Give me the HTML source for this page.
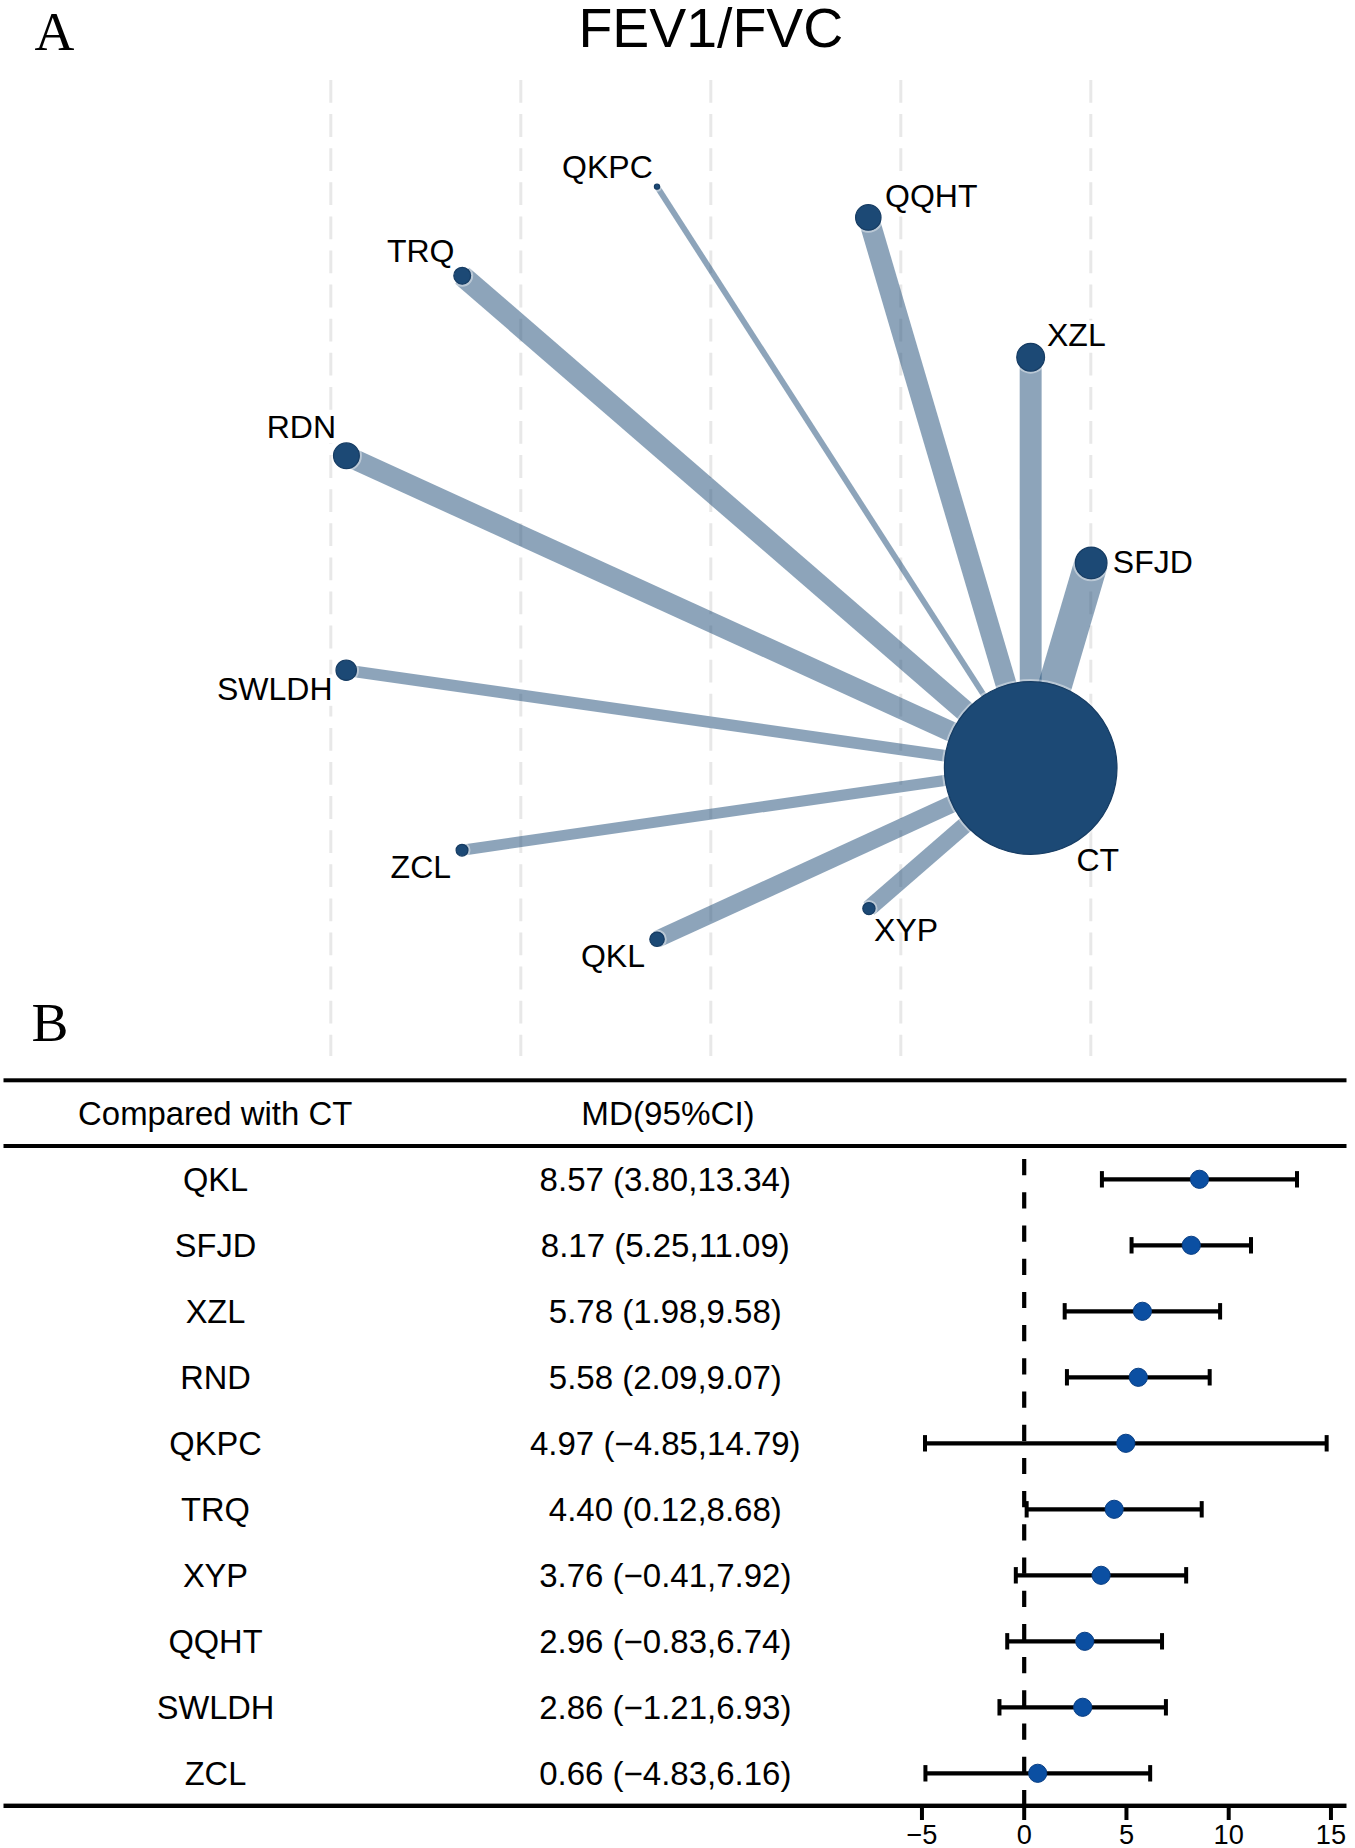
<!DOCTYPE html>
<html><head><meta charset="utf-8"><style>
html,body{margin:0;padding:0;background:#fff;}
body{width:1355px;height:1848px;overflow:hidden;}
svg{display:block;}
text{font-family:"Liberation Sans",sans-serif;fill:#000;}
.serif{font-family:"Liberation Serif",serif;}
</style></head><body>
<svg width="1355" height="1848" viewBox="0 0 1355 1848">
<rect width="1355" height="1848" fill="#fff"/>

<line x1="330.8" y1="80" x2="330.8" y2="1056" stroke="#e8e8e8" stroke-width="3" stroke-dasharray="22.8 11.3"/>
<line x1="520.8" y1="80" x2="520.8" y2="1056" stroke="#e8e8e8" stroke-width="3" stroke-dasharray="22.8 11.3"/>
<line x1="710.8" y1="80" x2="710.8" y2="1056" stroke="#e8e8e8" stroke-width="3" stroke-dasharray="22.8 11.3"/>
<line x1="900.8" y1="80" x2="900.8" y2="1056" stroke="#e8e8e8" stroke-width="3" stroke-dasharray="22.8 11.3"/>
<line x1="1090.8" y1="80" x2="1090.8" y2="1056" stroke="#e8e8e8" stroke-width="3" stroke-dasharray="22.8 11.3"/>
<rect x="884.0" y="181.5" width="94.4" height="31.4" fill="#fff"/>
<rect x="1046.0" y="320.4" width="60.7" height="31.4" fill="#fff"/>
<rect x="265.7" y="411.9" width="71.3" height="31.4" fill="#fff"/>
<rect x="216.0" y="674.4" width="117.6" height="31.4" fill="#fff"/>
<g stroke="#1c4975" stroke-opacity="0.5" fill="none">
<line x1="657.0" y1="186.6" x2="1030.7" y2="768.0" stroke-width="5.8"/>
<line x1="868.3" y1="217.4" x2="1030.7" y2="768.0" stroke-width="21.0"/>
<line x1="462.2" y1="275.7" x2="1030.7" y2="768.0" stroke-width="21.2"/>
<line x1="1030.65" y1="357.2" x2="1030.7" y2="768.0" stroke-width="21.9"/>
<line x1="346.4" y1="455.8" x2="1030.7" y2="768.0" stroke-width="20.2"/>
<line x1="1091.2" y1="562.9" x2="1030.7" y2="768.0" stroke-width="33.7"/>
<line x1="346.2" y1="670.2" x2="1030.7" y2="768.0" stroke-width="11.7"/>
<line x1="462.0" y1="850.2" x2="1030.7" y2="768.0" stroke-width="11.0"/>
<line x1="657.0" y1="939.3" x2="1030.7" y2="768.0" stroke-width="17.2"/>
<line x1="868.9" y1="908.6" x2="1030.7" y2="768.0" stroke-width="16.6"/>
</g>
<g fill="none" stroke="#fff" stroke-opacity="0.4" stroke-width="2">
<circle cx="1030.7" cy="768.0" r="87.9"/>
<circle cx="657.0" cy="186.6" r="4.20"/>
<circle cx="868.3" cy="217.4" r="14.30"/>
<circle cx="462.2" cy="275.7" r="10.00"/>
<circle cx="1030.65" cy="357.2" r="15.50"/>
<circle cx="346.4" cy="455.8" r="14.50"/>
<circle cx="1091.2" cy="562.9" r="17.40"/>
<circle cx="346.2" cy="670.2" r="11.80"/>
<circle cx="462.0" cy="850.2" r="7.50"/>
<circle cx="657.0" cy="939.3" r="8.80"/>
<circle cx="868.9" cy="908.6" r="7.70"/>
</g>
<g fill="#1c4975" stroke="#163c63" stroke-width="1.2">
<circle cx="1030.7" cy="768.0" r="86.30000000000001"/>
<circle cx="657.0" cy="186.6" r="2.60"/>
<circle cx="868.3" cy="217.4" r="12.70"/>
<circle cx="462.2" cy="275.7" r="8.40"/>
<circle cx="1030.65" cy="357.2" r="13.90"/>
<circle cx="346.4" cy="455.8" r="12.90"/>
<circle cx="1091.2" cy="562.9" r="15.80"/>
<circle cx="346.2" cy="670.2" r="10.20"/>
<circle cx="462.0" cy="850.2" r="5.90"/>
<circle cx="657.0" cy="939.3" r="7.20"/>
<circle cx="868.9" cy="908.6" r="6.10"/>
</g>
<text x="562.1" y="177.8" font-size="32">QKPC</text>
<text x="885" y="207.1" font-size="32">QQHT</text>
<text x="386.9" y="262.0" font-size="32">TRQ</text>
<text x="1047" y="346.0" font-size="32">XZL</text>
<text x="266.7" y="437.5" font-size="32">RDN</text>
<text x="1112.8" y="572.9" font-size="32">SFJD</text>
<text x="217" y="700.0" font-size="32">SWLDH</text>
<text x="390.6" y="878.0" font-size="32">ZCL</text>
<text x="580.9" y="967.3" font-size="32">QKL</text>
<text x="874.1" y="940.7" font-size="32">XYP</text>
<text x="1076.5" y="870.6" font-size="32">CT</text>
<text x="578.5" y="46.6" font-size="55.4">FEV1/FVC</text>
<text class="serif" x="34.6" y="50.3" font-size="55.2">A</text>
<text class="serif" x="31.4" y="1041.3" font-size="55.4">B</text>
<rect x="3.5" y="1078.3" width="1343" height="4" fill="#000"/>
<rect x="3.5" y="1144" width="1343" height="4" fill="#000"/>
<rect x="3.5" y="1803.6" width="1343" height="4.4" fill="#000"/>
<text x="215.2" y="1125" font-size="32.9" text-anchor="middle">Compared with CT</text>
<text x="668" y="1125" font-size="33.2" text-anchor="middle">MD(95%CI)</text>
<line x1="1024.2" y1="1159.1" x2="1024.2" y2="1805" stroke="#000" stroke-width="4.2" stroke-dasharray="16.2 17"/>
<text x="215.5" y="1190.7" font-size="32.6" text-anchor="middle">QKL</text>
<text x="665.3" y="1190.7" font-size="33.0" text-anchor="middle">8.57 (3.80,13.34)</text>
<line x1="1101.91" y1="1179.3" x2="1297.0030000000002" y2="1179.3" stroke="#000" stroke-width="4.2"/>
<line x1="1101.91" y1="1171.1" x2="1101.91" y2="1187.5" stroke="#000" stroke-width="4"/>
<line x1="1297.0030000000002" y1="1171.1" x2="1297.0030000000002" y2="1187.5" stroke="#000" stroke-width="4"/>
<circle cx="1199.4565" cy="1179.3" r="9.1" fill="#0b4fa2" stroke="#0a3f84" stroke-width="1"/>
<text x="215.5" y="1256.7" font-size="32.6" text-anchor="middle">SFJD</text>
<text x="665.3" y="1256.7" font-size="33.0" text-anchor="middle">8.17 (5.25,11.09)</text>
<line x1="1131.5625" y1="1245.3" x2="1250.9905" y2="1245.3" stroke="#000" stroke-width="4.2"/>
<line x1="1131.5625" y1="1237.1" x2="1131.5625" y2="1253.5" stroke="#000" stroke-width="4"/>
<line x1="1250.9905" y1="1237.1" x2="1250.9905" y2="1253.5" stroke="#000" stroke-width="4"/>
<circle cx="1191.2765" cy="1245.3" r="9.1" fill="#0b4fa2" stroke="#0a3f84" stroke-width="1"/>
<text x="215.5" y="1322.7" font-size="32.6" text-anchor="middle">XZL</text>
<text x="665.3" y="1322.7" font-size="33.0" text-anchor="middle">5.78 (1.98,9.58)</text>
<line x1="1064.691" y1="1311.3" x2="1220.111" y2="1311.3" stroke="#000" stroke-width="4.2"/>
<line x1="1064.691" y1="1303.1" x2="1064.691" y2="1319.5" stroke="#000" stroke-width="4"/>
<line x1="1220.111" y1="1303.1" x2="1220.111" y2="1319.5" stroke="#000" stroke-width="4"/>
<circle cx="1142.401" cy="1311.3" r="9.1" fill="#0b4fa2" stroke="#0a3f84" stroke-width="1"/>
<text x="215.5" y="1388.7" font-size="32.6" text-anchor="middle">RND</text>
<text x="665.3" y="1388.7" font-size="33.0" text-anchor="middle">5.58 (2.09,9.07)</text>
<line x1="1066.9405000000002" y1="1377.3" x2="1209.6815000000001" y2="1377.3" stroke="#000" stroke-width="4.2"/>
<line x1="1066.9405000000002" y1="1369.1" x2="1066.9405000000002" y2="1385.5" stroke="#000" stroke-width="4"/>
<line x1="1209.6815000000001" y1="1369.1" x2="1209.6815000000001" y2="1385.5" stroke="#000" stroke-width="4"/>
<circle cx="1138.3110000000001" cy="1377.3" r="9.1" fill="#0b4fa2" stroke="#0a3f84" stroke-width="1"/>
<text x="215.5" y="1454.7" font-size="32.6" text-anchor="middle">QKPC</text>
<text x="665.3" y="1454.7" font-size="33.0" text-anchor="middle">4.97 (−4.85,14.79)</text>
<line x1="925.0175" y1="1443.3" x2="1326.6555" y2="1443.3" stroke="#000" stroke-width="4.2"/>
<line x1="925.0175" y1="1435.1" x2="925.0175" y2="1451.5" stroke="#000" stroke-width="4"/>
<line x1="1326.6555" y1="1435.1" x2="1326.6555" y2="1451.5" stroke="#000" stroke-width="4"/>
<circle cx="1125.8365000000001" cy="1443.3" r="9.1" fill="#0b4fa2" stroke="#0a3f84" stroke-width="1"/>
<text x="215.5" y="1520.7" font-size="32.6" text-anchor="middle">TRQ</text>
<text x="665.3" y="1520.7" font-size="33.0" text-anchor="middle">4.40 (0.12,8.68)</text>
<line x1="1026.654" y1="1509.3" x2="1201.7060000000001" y2="1509.3" stroke="#000" stroke-width="4.2"/>
<line x1="1026.654" y1="1501.1" x2="1026.654" y2="1517.5" stroke="#000" stroke-width="4"/>
<line x1="1201.7060000000001" y1="1501.1" x2="1201.7060000000001" y2="1517.5" stroke="#000" stroke-width="4"/>
<circle cx="1114.18" cy="1509.3" r="9.1" fill="#0b4fa2" stroke="#0a3f84" stroke-width="1"/>
<text x="215.5" y="1586.7" font-size="32.6" text-anchor="middle">XYP</text>
<text x="665.3" y="1586.7" font-size="33.0" text-anchor="middle">3.76 (−0.41,7.92)</text>
<line x1="1015.8155" y1="1575.3" x2="1186.164" y2="1575.3" stroke="#000" stroke-width="4.2"/>
<line x1="1015.8155" y1="1567.1" x2="1015.8155" y2="1583.5" stroke="#000" stroke-width="4"/>
<line x1="1186.164" y1="1567.1" x2="1186.164" y2="1583.5" stroke="#000" stroke-width="4"/>
<circle cx="1101.092" cy="1575.3" r="9.1" fill="#0b4fa2" stroke="#0a3f84" stroke-width="1"/>
<text x="215.5" y="1652.7" font-size="32.6" text-anchor="middle">QQHT</text>
<text x="665.3" y="1652.7" font-size="33.0" text-anchor="middle">2.96 (−0.83,6.74)</text>
<line x1="1007.2265000000001" y1="1641.3" x2="1162.0330000000001" y2="1641.3" stroke="#000" stroke-width="4.2"/>
<line x1="1007.2265000000001" y1="1633.1" x2="1007.2265000000001" y2="1649.5" stroke="#000" stroke-width="4"/>
<line x1="1162.0330000000001" y1="1633.1" x2="1162.0330000000001" y2="1649.5" stroke="#000" stroke-width="4"/>
<circle cx="1084.732" cy="1641.3" r="9.1" fill="#0b4fa2" stroke="#0a3f84" stroke-width="1"/>
<text x="215.5" y="1718.7" font-size="32.6" text-anchor="middle">SWLDH</text>
<text x="665.3" y="1718.7" font-size="33.0" text-anchor="middle">2.86 (−1.21,6.93)</text>
<line x1="999.4555" y1="1707.3" x2="1165.9185" y2="1707.3" stroke="#000" stroke-width="4.2"/>
<line x1="999.4555" y1="1699.1" x2="999.4555" y2="1715.5" stroke="#000" stroke-width="4"/>
<line x1="1165.9185" y1="1699.1" x2="1165.9185" y2="1715.5" stroke="#000" stroke-width="4"/>
<circle cx="1082.6870000000001" cy="1707.3" r="9.1" fill="#0b4fa2" stroke="#0a3f84" stroke-width="1"/>
<text x="215.5" y="1784.7" font-size="32.6" text-anchor="middle">ZCL</text>
<text x="665.3" y="1784.7" font-size="33.0" text-anchor="middle">0.66 (−4.83,6.16)</text>
<line x1="925.4265" y1="1773.3" x2="1150.172" y2="1773.3" stroke="#000" stroke-width="4.2"/>
<line x1="925.4265" y1="1765.1" x2="925.4265" y2="1781.5" stroke="#000" stroke-width="4"/>
<line x1="1150.172" y1="1765.1" x2="1150.172" y2="1781.5" stroke="#000" stroke-width="4"/>
<circle cx="1037.6970000000001" cy="1773.3" r="9.1" fill="#0b4fa2" stroke="#0a3f84" stroke-width="1"/>
<line x1="921.95" y1="1805" x2="921.95" y2="1820" stroke="#000" stroke-width="4"/>
<text x="921.95" y="1843.6" font-size="27.2" text-anchor="middle">−5</text>
<line x1="1024.2" y1="1805" x2="1024.2" y2="1820" stroke="#000" stroke-width="4"/>
<text x="1024.2" y="1843.6" font-size="27.2" text-anchor="middle">0</text>
<line x1="1126.45" y1="1805" x2="1126.45" y2="1820" stroke="#000" stroke-width="4"/>
<text x="1126.45" y="1843.6" font-size="27.2" text-anchor="middle">5</text>
<line x1="1228.7" y1="1805" x2="1228.7" y2="1820" stroke="#000" stroke-width="4"/>
<text x="1228.7" y="1843.6" font-size="27.2" text-anchor="middle">10</text>
<line x1="1330.95" y1="1805" x2="1330.95" y2="1820" stroke="#000" stroke-width="4"/>
<text x="1330.95" y="1843.6" font-size="27.2" text-anchor="middle">15</text>
</svg>
</body></html>
